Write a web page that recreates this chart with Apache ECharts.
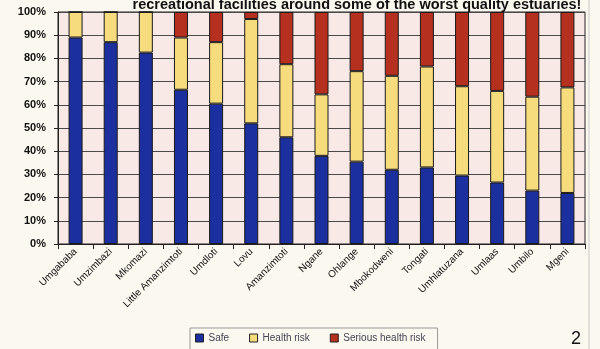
<!DOCTYPE html>
<html>
<head>
<meta charset="utf-8">
<script src="https://cdn.jsdelivr.net/npm/echarts@6/dist/echarts.min.js"></script>
<style>
  html, body { margin: 0; padding: 0; background: #fbf8ef; }
  #chart { width: 600px; height: 349px; }
</style>
</head>
<body>
<div id="chart"></div>
<script>
// estuaries
var estuaries = ['Umgababa', 'Umzimbazi', 'Mkomazi', 'Little Amanzimtoti', 'Umdloti', 'Lovu',
  'Amanzimtoti', 'Ngane', 'Ohlange', 'Mbokodweni', 'Tongati', 'Umhlatuzana', 'Umlaas', 'Umbilo', 'Mgeni'];

// percentages
var safe        = [89, 87, 82.5, 66.5, 60.5, 52, 46, 38, 35.5, 32, 33, 29.5, 26.5, 23, 22];
var healthRisk  = [11, 13, 17.5, 22.5, 26.5, 45, 31.5, 26.5, 39, 40.5, 43.5, 38.5, 39.5, 40.5, 45.5];
var seriousRisk = [0, 0, 0, 11, 13, 3, 22.5, 35.5, 25.5, 27.5, 23.5, 32, 34, 36.5, 32.5];

var legendNames = ['Safe', 'Health risk', 'Serious health risk'];
var colors = ['#1b2f9e', '#f6dc7c', '#b5301f'];

var myChart = echarts.init(document.getElementById('chart'));

// 每个系列
var serie = [safe, healthRisk, seriousRisk].map(function (d, i) {
  return {
    name: legendNames[i],
    type: 'bar',
    stack: 'total',
    barWidth: 14,
    data: d,
    itemStyle: { color: colors[i], borderColor: '#1a1a1a', borderWidth: 1 }
  };
});

var option = {
  backgroundColor: '#fbf8ef',
  animation: false,
  title: {
    text: 'recreational facilities around some of the worst quality estuaries!',
    left: 352, top: -8, textAlign: 'center',
    textStyle: { fontFamily: 'Liberation Sans', fontSize: 14.5, fontWeight: 'bold', color: '#111' }
  },
  legend: {
    left: 190, top: 328,
    itemWidth: 8, itemHeight: 8, itemGap: 20,
    padding: [5, 12, 14, 5],
    borderColor: '#999', borderWidth: 1,
    icon: 'rect',
    data: legendNames,
    itemStyle: { borderColor: '#222', borderWidth: 1 },
    textStyle: { fontFamily: 'Liberation Sans', fontSize: 10, color: '#445' }
  },
  grid: {
    left: 58, right: 15, top: 12, bottom: 105,
    show: true, backgroundColor: '#f8e9e6', borderColor: '#222', borderWidth: 1
  },
  xAxis: {
    type: 'category',
    data: estuaries,
    axisLine: { lineStyle: { color: '#222' } },
    axisTick: { show: true, alignWithLabel: false, lineStyle: { color: '#222' } },
    axisLabel: {
      interval: 0, rotate: 45, margin: 6,
      fontFamily: 'Liberation Sans', fontSize: 10, color: '#111'
    }
  },
  yAxis: {
    type: 'value',
    min: 0, max: 100, interval: 10,
    axisLine: { show: true, lineStyle: { color: '#222' } },
    axisTick: { show: true, length: 4, lineStyle: { color: '#222' } },
    splitLine: { lineStyle: { color: '#4a4a4a', width: 1 } },
    axisLabel: {
      formatter: '{value}%', margin: 12,
      fontFamily: 'Liberation Sans', fontSize: 11, fontWeight: 'bold', color: '#111'
    }
  },
  graphic: [
    { type: 'line', shape: { x1: 589, y1: 0, x2: 589, y2: 349 }, style: { stroke: '#c8c8c8', lineWidth: 1 } },
    { type: 'text', left: 571, top: 330, style: { text: '2', fontFamily: 'Liberation Sans', fontSize: 18, fill: '#111' } }
  ],
  series: serie
};

myChart.setOption(option);
</script>
</body>
</html>
